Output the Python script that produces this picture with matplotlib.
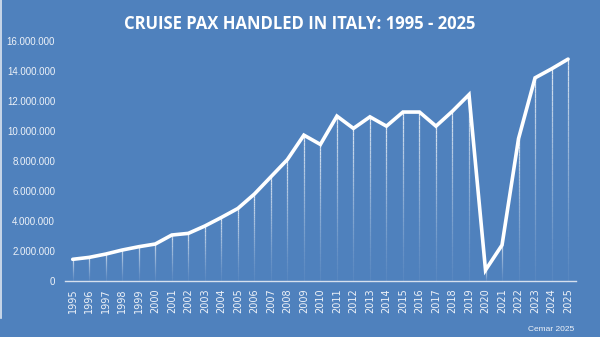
import matplotlib
matplotlib.use("Agg")
import matplotlib.pyplot as plt
import numpy as np
from matplotlib.collections import LineCollection
from matplotlib.ticker import FuncFormatter

years = list(range(1995, 2026))
passengers = [
    1450000, 1580000, 1800000, 2070000, 2290000, 2470000, 3070000, 3180000,
    3670000, 4240000, 4840000, 5800000, 6950000, 8100000, 9730000, 9110000,
    11000000, 10180000, 10950000, 10330000, 11270000, 11270000, 10330000,
    11330000, 12430000, 730000, 2400000, 9500000, 13550000, 14150000, 14800000,
]
title = "CRUISE PAX HANDLED IN ITALY: 1995 - 2025"
source = "Cemar 2025"

bg = "#4F81BD"
txt = "#EEF2F8"

fig = plt.figure(figsize=(6.0, 3.37), dpi=100, facecolor=bg)
ax = fig.add_axes([0.108, 0.166, 0.852, 0.712])
ax.set_facecolor(bg)

# fading drop lines from each point down to the axis
segs, cols = [], []
n = 40
for x, y in zip(years, passengers):
    ys = np.linspace(0, y, n + 1)
    for i in range(n):
        segs.append([(x, ys[i]), (x, ys[i + 1])])
        a = 0.05 + 0.75 * ((i + 0.5) / n) ** 1.3
        cols.append((1, 1, 1, a))
ax.add_collection(LineCollection(segs, colors=cols, linewidths=0.9, zorder=2))

ax.plot(years, passengers, color="white", lw=2.6, solid_joinstyle="miter",
        solid_capstyle="round", zorder=3)

ax.set_xlim(1994.52, 2025.48)
ax.set_ylim(0, 16000000)
ax.set_yticks(np.arange(0, 16000001, 2000000))
ax.yaxis.set_major_formatter(FuncFormatter(lambda v, p: f"{int(v):,}".replace(",", ".")))
ax.set_xticks(years)
ax.set_xticklabels([str(y) for y in years], rotation=90, fontsize=7,
                   color=txt, family="DejaVu Sans")
for lbl in ax.get_yticklabels():
    lbl.set_fontsize(7)
    lbl.set_color(txt)
    lbl.set_family("Liberation Sans")

ax.tick_params(axis="both", length=0)
ax.tick_params(axis="y", pad=7)
ax.tick_params(axis="x", pad=5)
for s in ["top", "right", "left"]:
    ax.spines[s].set_visible(False)
ax.spines["bottom"].set_color("#D6E0EE")
ax.spines["bottom"].set_linewidth(1.0)

fig.text(0.5, 0.928, title, ha="center", va="center", color="white",
         fontsize=12, fontweight="bold", family="Open Sans")
fig.text(0.957, 0.023, source, ha="right", va="center", color=txt,
         fontsize=6, family=["Liberation Sans Narrow", "Liberation Sans"])

# thin light edge on the left of the chart panel
fig.add_artist(plt.Line2D([0.001, 0.001], [1 - 318 / 337, 1.0],
                          transform=fig.transFigure, color="#DDE5F0", lw=1.2))

fig.savefig("out.png", dpi=100, facecolor=bg)
